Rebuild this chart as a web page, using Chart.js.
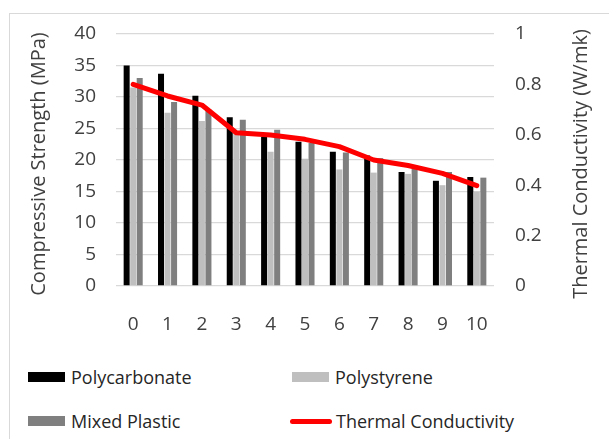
<!DOCTYPE html>
<html>
<head>
<meta charset="utf-8">
<script src="https://cdn.jsdelivr.net/npm/chart.js@4.4.4/dist/chart.umd.min.js"></script>
<style>
    body { margin: 0; background: #fff; font-family: "Open Sans", sans-serif; }
    #wrap { position: relative; width: 609px; height: 439px; overflow: hidden; }
    #frame { position: absolute; left: 9px; top: 13px; width: 700px; height: 500px; border: 1px solid #d9d9d9; }
    #chart { position: absolute; left: 0; top: 0; }
    #legend { position: absolute; left: 28px; top: 355px; display: grid; grid-template-columns: 264px 264px; grid-auto-rows: 44px; }
    .item { display: flex; align-items: center; font-size: 18px; color: #262626; }
    .swatch { width: 37px; height: 10px; margin-right: 6px; }
    .swatch.line { width: 42px; height: 5px; border-radius: 3px; margin-left: -2px; margin-right: 4px; }
</style>
</head>
<body>
<div id="wrap">
    <div id="frame"></div>
    <canvas id="chart" width="609" height="336"></canvas>
    <div id="legend"></div>
</div>
<script>
const categories = ['0', '1', '2', '3', '4', '5', '6', '7', '8', '9', '10'];
const polycarbonate = [35.0, 33.7, 30.2, 26.8, 23.7, 22.9, 21.3, 20.7, 18.1, 16.7, 17.3];
const polystyrene = [31.5, 27.5, 26.2, 24.5, 21.3, 20.2, 18.5, 18.0, 17.8, 16.0, 15.0];
const mixedPlastic = [33.0, 29.2, 28.0, 26.4, 24.8, 22.7, 21.2, 20.3, 18.6, 18.1, 17.2];
const thermalConductivity = [0.80, 0.754, 0.718, 0.608, 0.599, 0.582, 0.553, 0.50, 0.478, 0.447, 0.398];
const leftTicks = [0, 5, 10, 15, 20, 25, 30, 35, 40];
const rightTicks = [0, 0.2, 0.4, 0.6, 0.8, 1];

const FONT = '"Open Sans", sans-serif';
const TEXT = '#404040';

// axis titles read bottom-to-top on both sides, so draw them by hand
const axisTitles = {
    id: 'axisTitles',
    afterDraw(chart) {
        const ctx = chart.ctx;
        const area = chart.chartArea;
        const midY = (area.top + area.bottom) / 2 + 4;
        ctx.save();
        ctx.fillStyle = TEXT;
        ctx.font = '20px ' + FONT;
        ctx.textAlign = 'center';
        ctx.textBaseline = 'middle';
        [[39, 'Compressive Strength (MPa)'], [581, 'Thermal Conductivity (W/mk)']].forEach(([x, label]) => {
            ctx.save();
            ctx.translate(x, midY);
            ctx.rotate(-Math.PI / 2);
            ctx.fillText(label, 0, 0);
            ctx.restore();
        });
        ctx.restore();
    }
};

const ctx = document.getElementById('chart').getContext('2d');
const chart = new Chart(ctx, {
    type: 'bar',
    data: {
        labels: categories,
        datasets: [
            { label: 'Polycarbonate', data: polycarbonate, backgroundColor: '#000000', yAxisID: 'y', order: 1 },
            { label: 'Polystyrene', data: polystyrene, backgroundColor: '#bfbfbf', yAxisID: 'y', order: 1 },
            { label: 'Mixed Plastic', data: mixedPlastic, backgroundColor: '#7f7f7f', yAxisID: 'y', order: 1 },
            {
                type: 'line', label: 'Thermal Conductivity', data: thermalConductivity, yAxisID: 'y1', order: 0,
                borderColor: '#ff0000', backgroundColor: '#ff0000', borderWidth: 5, pointRadius: 0,
                tension: 0, borderCapStyle: 'round', borderJoinStyle: 'round'
            }
        ]
    },
    options: {
        responsive: false,
        animation: false,
        events: [],
        categoryPercentage: 0.57,
        barPercentage: 0.92,
        layout: { padding: { top: 34, left: 0, right: 0, bottom: 0 } },
        plugins: { legend: { display: false }, tooltip: { enabled: false } },
        scales: {
            x: {
                grid: { display: false },
                border: { display: false },
                ticks: { color: TEXT, font: { family: FONT, size: 19 }, padding: 19, maxRotation: 0 },
                afterFit: s => { s.height = 50; }
            },
            y: {
                position: 'left',
                min: 0, max: 40,
                afterBuildTicks: s => { s.ticks = leftTicks.map(v => ({ value: v })); },
                grid: { color: '#d9d9d9', lineWidth: 1.3, drawTicks: false },
                border: { display: false },
                ticks: { color: TEXT, font: { family: FONT, size: 19 }, padding: 20 },
                afterFit: s => { s.width = 116; }
            },
            y1: {
                position: 'right',
                min: 0, max: 1,
                afterBuildTicks: s => { s.ticks = rightTicks.map(v => ({ value: v })); },
                grid: { display: false, drawTicks: false },
                border: { display: false },
                ticks: {
                    color: TEXT, font: { family: FONT, size: 19 }, padding: 21,
                    callback: v => String(parseFloat(v.toFixed(1)))
                },
                afterFit: s => { s.width = 115; }
            }
        }
    },
    plugins: [axisTitles]
});

// two-column legend like the original
const legend = document.getElementById('legend');
const legendOrder = [0, 1, 2, 3];
legendOrder.forEach(i => {
    const ds = chart.data.datasets[i];
    const item = document.createElement('div');
    item.className = 'item';
    const sw = document.createElement('span');
    sw.className = 'swatch' + (ds.type === 'line' ? ' line' : '');
    sw.style.background = ds.type === 'line' ? ds.borderColor : ds.backgroundColor;
    const txt = document.createElement('span');
    txt.textContent = ds.label;
    item.appendChild(sw);
    item.appendChild(txt);
    legend.appendChild(item);
});
</script>
</body>
</html>
